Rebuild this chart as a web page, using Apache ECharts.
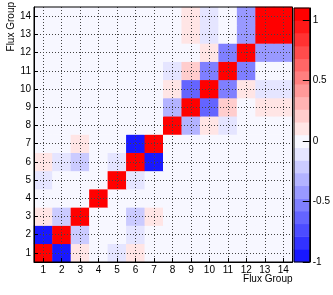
<!DOCTYPE html>
<html>
<head>
<meta charset="utf-8">
<script src="https://cdn.jsdelivr.net/npm/echarts@6/dist/echarts.min.js"></script>
<style>
html,body{margin:0;padding:0;background:#fff;}
#c{width:333px;height:295px;}
</style>
</head>
<body>
<div id="c"></div>
<script>
// Flux group categories (x and y)
var groups = ['1','2','3','4','5','6','7','8','9','10','11','12','13','14'];
// Correlation rows, row k = flux group k (bottom to top), columns = groups 1..14
var row1  = [1, -0.95, 0.1, 0, -0.1, 0.1, 0, 0, 0, 0, 0, 0, 0, 0];
var row2  = [-0.95, 1, -0.2, 0, 0, -0.1, 0, 0, 0, 0, 0, 0, 0, 0];
var row3  = [0.1, -0.2, 1, 0, 0, -0.2, 0.1, 0, 0, 0, 0, 0, 0, 0];
var row4  = [0, 0, 0, 1, 0, 0, 0, 0, 0, 0, 0, 0, 0, 0];
var row5  = [-0.1, 0, 0, 0, 1, -0.1, 0, 0, 0, 0, 0, 0, 0, 0];
var row6  = [0.1, -0.1, -0.2, 0, -0.1, 1, -0.93, 0, 0, 0, 0, 0, 0, 0];
var row7  = [0, 0, 0.1, 0, 0, -0.93, 1, 0, 0, 0, 0, 0, 0, 0];
var row8  = [0, 0, 0, 0, 0, 0, 0, 1, -0.3, 0.08, -0.1, 0, 0, 0];
var row9  = [0, 0, 0, 0, 0, 0, 0, -0.3, 1, -0.62, 0.2, 0, 0.08, 0.08];
var row10 = [0, 0, 0, 0, 0, 0, 0, 0.08, -0.62, 1, -0.53, 0.08, -0.1, -0.1];
var row11 = [0, 0, 0, 0, 0, 0, 0, -0.1, 0.2, -0.53, 1, -0.53, 0, 0];
var row12 = [0, 0, 0, 0, 0, 0, 0, 0, 0, 0.08, -0.53, 1, -0.42, -0.42];
var row13 = [0, 0, 0, 0, 0, 0, 0, 0, 0.08, -0.1, 0, -0.42, 1, 0.999];
var row14 = [0, 0, 0, 0, 0, 0, 0, 0, 0.08, -0.1, 0, -0.42, 0.999, 1];
var rows = [row1,row2,row3,row4,row5,row6,row7,row8,row9,row10,row11,row12,row13,row14];

// Palette: z range and tick labels
var zMin = -1, zMax = 1.1, nLevels = 20;
var zTicks = [-1, -0.5, 0, 0.5, 1];
var levelColors = [
 'rgb(24,24,255)','rgb(50,50,255)','rgb(76,76,255)','rgb(100,100,255)','rgb(127,127,255)',
 'rgb(153,153,255)','rgb(179,179,255)','rgb(203,203,255)','rgb(229,229,255)','rgb(247,247,255)',
 'rgb(255,229,229)','rgb(255,205,205)','rgb(255,179,179)','rgb(255,153,153)','rgb(255,127,127)',
 'rgb(255,102,102)','rgb(255,76,76)','rgb(255,50,50)','rgb(255,24,24)','rgb(255,0,0)'
];

var step = (zMax - zMin) / nLevels;
var pieces = [];
var paletteCats = [];
var paletteData = [];
for (var k = 0; k < nLevels; k++) {
  var lo = zMin + k * step, hi = zMin + (k + 1) * step;
  var p = {gte: lo, color: levelColors[k]};
  if (k < nLevels - 1) p.lt = hi; else p.lte = hi + 1e-9;
  pieces.push(p);
  paletteCats.push(String(k));
  paletteData.push([0, k, (lo + hi) / 2]);
}

var cells = [];
for (var y = 0; y < rows.length; y++) {
  for (var x = 0; x < groups.length; x++) {
    cells.push([x, y, rows[y][x]]);
  }
}

var FONT = 'Liberation Sans, Arial, sans-serif';
var chart = echarts.init(document.getElementById('c'), null, {renderer: 'canvas'});
chart.setOption({
  animation: false,
  backgroundColor: '#fff',
  grid: [
    {left: 34, right: 40.5, top: 7, bottom: 33, show: true, borderColor: '#000', borderWidth: 1, backgroundColor: 'transparent', z: 4},
    {left: 294, width: 16, top: 8, bottom: 33, show: true, borderColor: '#000', borderWidth: 1, backgroundColor: 'transparent', z: 4}
  ],
  visualMap: {
    type: 'piecewise', show: false, dimension: 2, seriesIndex: [0, 1], pieces: pieces
  },
  xAxis: [
    {
      type: 'category', data: groups, gridIndex: 0, z: 3,
      axisLine: {show: true, lineStyle: {color: '#000', width: 1}},
      axisTick: {show: true, inside: true, alignWithLabel: true, length: 4, lineStyle: {color: '#000'}},
      axisLabel: {color: '#000', fontSize: 10, fontFamily: FONT, margin: 3},
      splitLine: {show: true, alignWithLabel: true, lineStyle: {color: '#444', type: [1, 2], width: 1}}
    },
    {
      type: 'category', data: ['p'], gridIndex: 1, show: false
    }
  ],
  yAxis: [
    {
      type: 'category', data: groups, gridIndex: 0, z: 3,
      axisLine: {show: true, lineStyle: {color: '#000', width: 1}},
      axisTick: {show: true, inside: true, alignWithLabel: true, length: 4, lineStyle: {color: '#000'}},
      axisLabel: {color: '#000', fontSize: 10, fontFamily: FONT, margin: 3},
      splitLine: {show: true, alignWithLabel: true, lineStyle: {color: '#444', type: [1, 2], width: 1}}
    },
    {
      type: 'category', data: paletteCats, gridIndex: 1, show: false
    },
    {
      type: 'value', gridIndex: 1, min: zMin, max: zMax, position: 'right', z: 3,
      axisLine: {show: true, lineStyle: {color: '#000', width: 1}},
      axisTick: {show: true, inside: true, length: 7, customValues: zTicks, lineStyle: {color: '#000'}},
      axisLabel: {color: '#000', fontSize: 10, fontFamily: FONT, margin: 3, customValues: zTicks},
      splitLine: {show: false}
    }
  ],
  graphic: [
    {type: 'text', x: 292.5, y: 274, style: {text: 'Flux Group', fontSize: 10, fontFamily: FONT, fill: '#000', textAlign: 'right', textVerticalAlign: 'top'}},
    {type: 'text', x: 11, y: 2, rotation: Math.PI / 2, style: {text: 'Flux Group', fontSize: 10, fontFamily: FONT, fill: '#000', textAlign: 'right', textVerticalAlign: 'middle'}}
  ],
  series: [
    {
      type: 'heatmap', xAxisIndex: 0, yAxisIndex: 0, data: cells,
      emphasis: {disabled: true}, progressive: 0, z: 2
    },
    {
      type: 'heatmap', xAxisIndex: 1, yAxisIndex: 1, data: paletteData,
      emphasis: {disabled: true}, progressive: 0, z: 2
    }
  ]
});
</script>
</body>
</html>
